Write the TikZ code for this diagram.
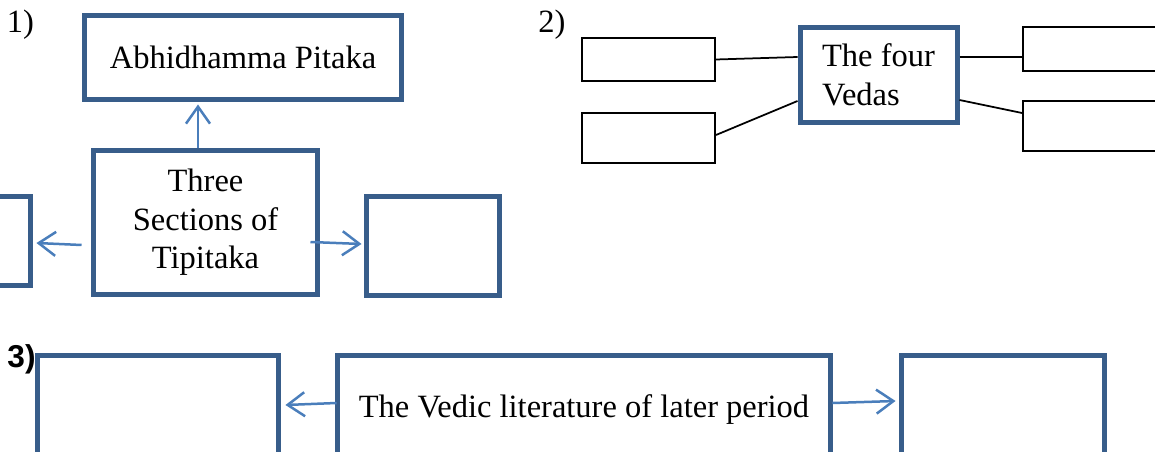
\documentclass[tikz,border=0pt]{standalone}
\usepackage{fontspec}
\setmainfont{Liberation Serif}
\newfontfamily\labelsans{Liberation Sans}
\usetikzlibrary{arrows.meta, calc}
\definecolor{boxblue}{HTML}{385D8A}
\definecolor{arrowblue}{HTML}{4A7EBB}

\begin{document}
\begin{tikzpicture}[x=0.02cm, y=-0.02cm,
    bluebox/.style={draw=boxblue, line width=0.1cm, inner sep=0pt, align=center, font=\fontsize{18.5}{22}\selectfont},
    thinbox/.style={draw=black, line width=0.04cm, inner sep=0pt},
    arr/.style={draw=arrowblue, line width=0.05cm, -{Straight Barb[length=0.34cm, width=0.48cm]}},
    link/.style={draw=black, line width=0.035cm},
    numlabel/.style={font=\fontsize{18.5}{22}\selectfont, inner sep=0pt}]

            % Khung trang
            \useasboundingbox (0,0) rectangle (1155,452);
            \clip (0,0) rectangle (1155,452);

            % 1) Tipitaka
            \node[bluebox, minimum width=6.36cm, minimum height=1.7cm] (ap) at (243,57.5) {Abhidhamma Pitaka};
            \node[bluebox, minimum width=4.5cm, minimum height=2.9cm] (ts) at (205.5,222.5) {Three\\Sections of\\Tipitaka};
            \node[bluebox, minimum width=2.62cm, minimum height=1.8cm] (lb) at (-34.5,241) {};
            \node[bluebox, minimum width=2.68cm, minimum height=2cm] (rb) at (433,246) {};
            \draw[arr] ($(ts.north)+(-7.5,0)$) -- ($(ap.south)+(-45,2)$);
            \draw[arr] ($(ts.west)+(-9,22.5)$) -- ($(lb.east)+(3,2)$);
            \draw[arr] ($(ts.east)+(-10,19.5)$) -- ($(rb.west)+(-2,-2)$);

            % 2) The four Vedas
            \node[thinbox, minimum width=2.66cm, minimum height=0.86cm] (l1) at (648.5,59.5) {};
            \node[thinbox, minimum width=2.66cm, minimum height=1cm] (l2) at (648.5,138) {};
            \node[bluebox, align=left, minimum width=3.14cm, minimum height=1.92cm] (fv) at (878.5,75) {The four\\Vedas};
            \node[thinbox, minimum width=3.54cm, minimum height=0.88cm] (r1) at (1111.5,49) {};
            \node[thinbox, minimum width=3.54cm, minimum height=1cm] (r2) at (1111.5,126) {};
            \draw[link] (l1.east) -- ($(fv.west)+(0,-18)$);
            \draw[link] ($(l2.east)+(0,-3)$) -- ($(fv.west)+(0,26)$);
            \draw[link] ($(fv.east)+(0,-18)$) -- ($(r1.west)+(0,8)$);
            \draw[link] ($(fv.east)+(0,25)$) -- ($(r2.west)+(0,-13)$);

            % 3) Vedic literature
            \node[bluebox, minimum width=4.84cm, minimum height=2.2cm] (ba) at (158,410) {};
            \node[bluebox, minimum width=9.88cm, minimum height=2.2cm] (vl) at (584,410) {The Vedic literature of later period};
            \node[bluebox, minimum width=4.08cm, minimum height=2.2cm] (bc) at (1003,410) {};
            \draw[arr] ($(vl.west)+(2,-7)$) -- ($(ba.east)+(4,-5)$);
            \draw[arr] ($(vl.east)+(-1,-7)$) -- ($(bc.west)+(-3,-9)$);

            % So thu tu
            \node[numlabel] (n1) at (20.5,24.5) {1)};
            \node[numlabel] (n2) at (552,24.5) {2)};
            \node[font=\labelsans\bfseries\fontsize{18}{21}\selectfont, inner sep=0pt] (n3) at (21.5,359.5) {3)};

\end{tikzpicture}
\end{document}
